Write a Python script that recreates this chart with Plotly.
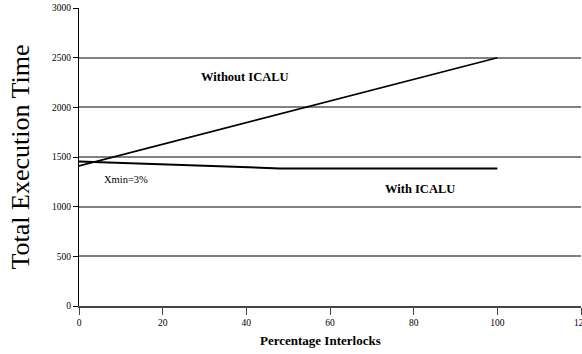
import plotly.graph_objects as go

# Data
x_without = [0, 100]
y_without = [1410, 2500]
x_with = [0, 48, 100]
y_with = [1455, 1385, 1385]

x_ticks = [0, 20, 40, 60, 80, 100, 120]
y_ticks = [0, 500, 1000, 1500, 2000, 2500, 3000]

serif = "Liberation Serif, Times New Roman, serif"

fig = go.Figure()
fig.add_trace(go.Scatter(x=x_without, y=y_without, mode="lines",
                         line=dict(color="black", width=1.6), name="Without ICALU"))
fig.add_trace(go.Scatter(x=x_with, y=y_with, mode="lines",
                         line=dict(color="black", width=2), name="With ICALU"))

fig.add_annotation(x=39.6, y=2310, text="<b>Without ICALU</b>", showarrow=False,
                   font=dict(family=serif, size=12.5, color="black"))
fig.add_annotation(x=81.4, y=1180, text="<b>With ICALU</b>", showarrow=False,
                   font=dict(family=serif, size=12.5, color="black"))
fig.add_annotation(x=11.2, y=1270, text="Xmin=3%", showarrow=False,
                   font=dict(family=serif, size=10.5, color="black"))
fig.add_annotation(xref="paper", yref="paper", x=0.482, y=-0.117,
                   text="<b>Percentage Interlocks</b>", showarrow=False,
                   xanchor="center", yanchor="middle",
                   font=dict(family=serif, size=13, color="black"))

fig.update_layout(
    width=582, height=354,
    margin=dict(l=79, r=1, t=8, b=48, autoexpand=False),
    paper_bgcolor="white", plot_bgcolor="white",
    showlegend=False,
    font=dict(family=serif, color="black"),
)
fig.update_xaxes(
    range=[0, 120], tickvals=x_ticks, ticktext=[str(v) for v in x_ticks],
    showgrid=False, zeroline=False, automargin=False,
    showline=True, linecolor="#444444", linewidth=2,
    ticks="outside", ticklen=7, tickcolor="#444444",
    tickfont=dict(family=serif, size=9.5),
    ticklabeloverflow="allow",
)
fig.update_yaxes(
    range=[0, 3000], tickvals=y_ticks, ticktext=[str(v) for v in y_ticks],
    showgrid=True, gridcolor="#808080", gridwidth=1.5, zeroline=False, automargin=False,
    showline=True, linecolor="black", linewidth=1,
    ticks="outside", ticklen=5, tickcolor="black",
    tickfont=dict(family=serif, size=9.5),
    title=dict(text="Total Execution Time", font=dict(family=serif, size=26), standoff=14),
)

fig.write_html("out.html", config={"displayModeBar": False},
               post_script="document.body.style.margin='0';")
